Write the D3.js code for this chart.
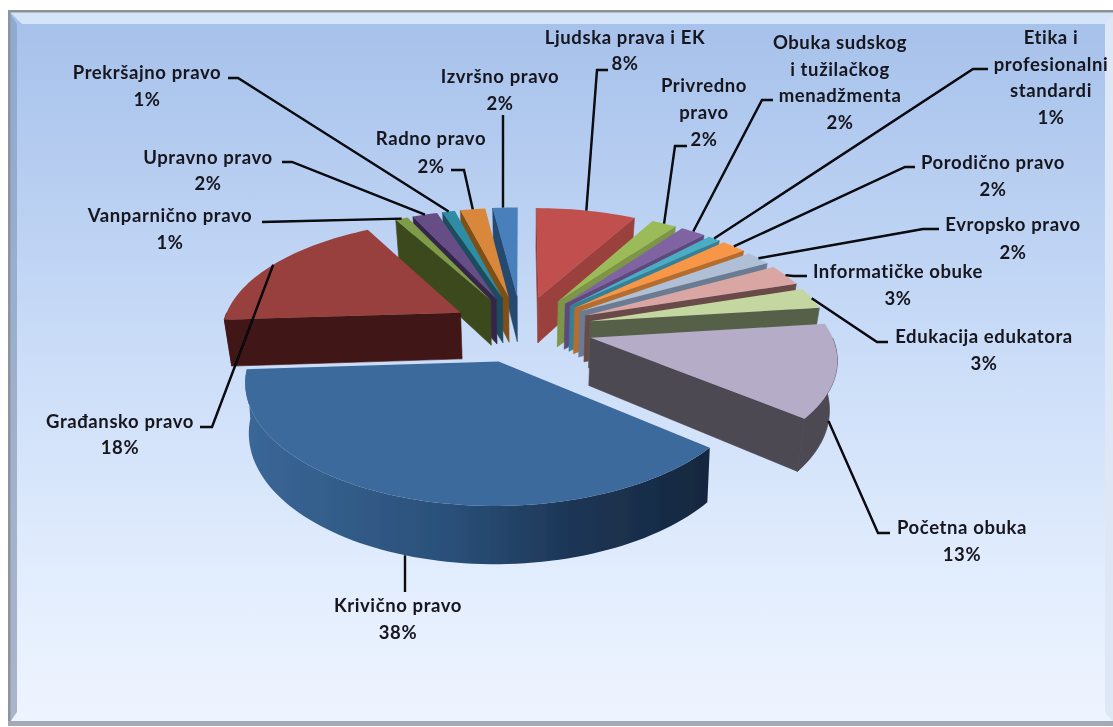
<!DOCTYPE html>
<html>
<head>
<meta charset="utf-8">
<script src="https://cdn.jsdelivr.net/npm/d3@7"></script>
<style>
html, body { margin: 0; padding: 0; background: #fff; }
svg { display: block; }
text { font-family: Lato, "Open Sans", sans-serif; font-weight: 700; font-size: 18.5px; letter-spacing: 0.6px; fill: #15151f; text-anchor: middle; dominant-baseline: central; }
</style>
</head>
<body>
<script>
// order is clockwise from 12 o'clock
var categories = ["Ljudska prava i EK", "Privredno pravo", "Obuka sudskog i tužilačkog menadžmenta", "Etika i profesionalni standardi",
    "Porodično pravo", "Evropsko pravo", "Informatičke obuke", "Edukacija edukatora", "Početna obuka", "Krivično pravo",
    "Građansko pravo", "Vanparnično pravo", "Upravno pravo", "Prekršajno pravo", "Radno pravo", "Izvršno pravo"];
var values = [8, 2, 2, 1, 2, 2, 3, 3, 13, 38, 18, 1, 2, 1, 2, 2];

var topColors = ["#c0504d", "#9bbb59", "#8064a2", "#4bacc6", "#f79646", "#aebfd6", "#d9a6a4", "#c4d7a0", "#b5acc7", "#3d6a9c",
    "#983f3d", "#7e9c47", "#664d86", "#2f8da5", "#d9873a", "#4a80bb"];
var sideColors = ["#9a3f3d", "#7b9546", "#5f4a7c", "#348096", "#b56c2e", "#6b7b94", "#6a4a4a", "#56604a", "#4d4852", "#24466c",
    "#3f1815", "#3b4a1e", "#35284a", "#1c4e5e", "#7f4f18", "#254a70"];

// label text lines, where they sit, and the elbow of each leader (label side first)
var labelLines = [["Ljudska prava i EK"], ["Privredno", "pravo"], ["Obuka sudskog", "i tužilačkog", "menadžmenta"], ["Etika i", "profesionalni", "standardi"],
    ["Porodično pravo"], ["Evropsko pravo"], ["Informatičke obuke"], ["Edukacija edukatora"], ["Početna obuka"], ["Krivično pravo"],
    ["Građansko pravo"], ["Vanparnično pravo"], ["Upravno pravo"], ["Prekršajno pravo"], ["Radno pravo"], ["Izvršno pravo"]];
var labelCenters = [[625, 37], [704, 85], [840, 42], [1051, 37], [993, 162], [1013, 224], [898, 271], [984, 336], [962, 527], [398, 605],
    [120, 421], [170, 215], [208, 157], [147, 72], [431, 138], [500, 76]];
var lineSteps = [26, 27, 26.5, 26.7, 27, 28, 27, 27, 27, 27, 26, 27, 26, 27, 28, 27];
var leaderElbows = [
    [[608, 70], [597, 70]], [[687, 146], [675, 146]], [[773, 100], [762, 100]], [[988, 69], [973, 69]],
    [[915, 167], [905, 167]], [[939, 229], [923, 229]], [[807, 276], [793, 276]], [[888, 342], [877, 342]],
    [[890, 533], [878, 533]], [[405, 592]], [[200, 427], [212, 427]], [[262, 222]],
    [[282, 162], [292, 162]], [[228, 78], [238, 78]], [[451, 170], [464, 170]], [[503, 115]]];
var leaderToRimBottom = ["Početna obuka", "Krivično pravo"];
var verticalLeaders = ["Krivično pravo", "Izvršno pravo"];

var width = 1113, height = 727;

// pie geometry: flat disc seen from above, in px at the disc centre
var cx = 521.5, cy = 328.5;
var radius = 239, explode = 71, thickness = 47;
var tilt = 0.467, camera = 1587, bottomShrink = 0.975, bigSliceShrink = 0.987;

function project(a, r, low) {
    // a clockwise from top; the exploded offset goes along the slice's mid angle
    var x = r.e * Math.sin(r.mid) + r.r * Math.sin(a);
    var z = -r.e * Math.cos(r.mid) - r.r * Math.cos(a);
    var s = 1 / (1 - z / camera);
    var px = x * s, py = tilt * z * s;
    if (low) {
        // the front slice barely narrows towards its bottom edge
        px *= Math.cos(r.mid) < -0.9 ? bigSliceShrink : bottomShrink;
        py += thickness * s;
    }
    return [cx + px, cy + py];
}

var svg = d3.select("body").append("svg").attr("width", width).attr("height", height);
var defs = svg.append("defs");

var bg = defs.append("linearGradient").attr("id", "bg").attr("x1", 0).attr("y1", 0).attr("x2", 0).attr("y2", 1);
bg.append("stop").attr("offset", "0%").attr("stop-color", "#a5c0ea");
bg.append("stop").attr("offset", "40%").attr("stop-color", "#c4d8f6");
bg.append("stop").attr("offset", "75%").attr("stop-color", "#dfebfd");
bg.append("stop").attr("offset", "100%").attr("stop-color", "#eff5ff");

var leftBevel = defs.append("linearGradient").attr("id", "leftBevel").attr("x1", 0).attr("y1", 0).attr("x2", 0).attr("y2", 1);
leftBevel.append("stop").attr("offset", "0%").attr("stop-color", "#8fa9d2");
leftBevel.append("stop").attr("offset", "100%").attr("stop-color", "#a9b6ca");

var rimBlue = defs.append("linearGradient").attr("id", "rimBlue");
rimBlue.append("stop").attr("offset", "0%").attr("stop-color", "#3a6797");
rimBlue.append("stop").attr("offset", "45%").attr("stop-color", "#2a4f78");
rimBlue.append("stop").attr("offset", "70%").attr("stop-color", "#1d3656");
rimBlue.append("stop").attr("offset", "100%").attr("stop-color", "#15273e");

var soft = defs.append("filter").attr("id", "soft").attr("x", "-5%").attr("y", "-5%").attr("width", "110%").attr("height", "110%");
soft.append("feGaussianBlur").attr("stdDeviation", 0.45);

// frame
var frame = svg.append("g").attr("filter", "url(#soft)");
frame.append("rect").attr("x", 8).attr("y", 10).attr("width", 1105).attr("height", 715).attr("fill", "url(#bg)");
frame.append("path").attr("d", "M8 10H1113V24H1098L22 24Z").attr("fill", "#d4e5fa");
frame.append("path").attr("d", "M8 10L17 24V712L8 725Z").attr("fill", "url(#leftBevel)");
frame.append("path").attr("d", "M1113 14L1105 24V712L1113 722Z").attr("fill", "#dde7f5");
frame.append("path").attr("d", "M8 725L17 716H1105L1113 725Z").attr("fill", "#eef4fd");
frame.append("rect").attr("x", 8).attr("y", 10).attr("width", 1105).attr("height", 2.5).attr("fill", "#8d9196");
frame.append("rect").attr("x", 8).attr("y", 10).attr("width", 2.5).attr("height", 715).attr("fill", "#8e949c");
frame.append("rect").attr("x", 8).attr("y", 721).attr("width", 1105).attr("height", 5).attr("fill", "#a3a9b6");

// pie
var arcs = d3.pie().sort(null)(values);
arcs.forEach(function (d, i) {
    d.i = i;
    d.mid = (d.startAngle + d.endAngle) / 2;
});

var line = d3.line();
var chart = svg.append("g").attr("filter", "url(#soft)");

function arcPoints(d, a0, a1, low) {
    var n = Math.max(2, Math.ceil((a1 - a0) / 0.03));
    return d3.range(n + 1).map(function (k) {
        return project(a0 + (a1 - a0) * k / n, {e: explode, mid: d.mid, r: radius}, low);
    });
}

function apex(d, low) {
    return project(0, {e: explode, mid: d.mid, r: 0}, low);
}

function wall(g, d, a) {
    var outerTop = project(a, {e: explode, mid: d.mid, r: radius}, false);
    var outerLow = project(a, {e: explode, mid: d.mid, r: radius}, true);
    g.append("path")
        .attr("d", line([apex(d, false), outerTop, outerLow, apex(d, true)]) + "Z")
        .attr("fill", sideColors[d.i])
        .attr("stroke", sideColors[d.i])
        .attr("stroke-width", 0.6);
}

// back to front: walls and rim before the top face
var order = arcs.slice().sort(function (a, b) {
    return d3.ascending(-Math.cos(a.mid), -Math.cos(b.mid));
});

order.forEach(function (d) {
    var g = chart.append("g");
    if (Math.sin(d.startAngle) <= 0) wall(g, d, d.startAngle);
    if (Math.sin(d.endAngle) > 0) wall(g, d, d.endAngle);

    var r0 = Math.max(d.startAngle, Math.PI / 2), r1 = Math.min(d.endAngle, Math.PI * 1.5);
    if (r1 > r0) {
        var blue = categories[d.i] === "Krivično pravo";
        var rim = arcPoints(d, r0, r1, false).concat(arcPoints(d, r0, r1, true).reverse());
        g.append("path")
            .attr("d", line(rim) + "Z")
            .attr("fill", blue ? "url(#rimBlue)" : sideColors[d.i])
            .attr("stroke", blue ? "none" : sideColors[d.i])
            .attr("stroke-width", 0.8);
    }

    var face = [apex(d, false)].concat(arcPoints(d, d.startAngle, d.endAngle, false));
    g.append("path")
        .attr("d", line(face) + "Z")
        .attr("fill", topColors[d.i]);
});

// leaders and labels
var labels = svg.append("g").attr("filter", "url(#soft)");

arcs.forEach(function (d) {
    var i = d.i;
    var low = leaderToRimBottom.indexOf(categories[i]) >= 0;
    var end = project(d.mid, {e: explode, mid: d.mid, r: radius}, low);
    if (verticalLeaders.indexOf(categories[i]) >= 0) end[0] = leaderElbows[i][0][0];
    labels.append("path")
        .attr("d", line(leaderElbows[i].concat([end])))
        .attr("fill", "none")
        .attr("stroke", "#07070f")
        .attr("stroke-width", 2.4);

    var rows = labelLines[i].concat([values[i] + "%"]);
    rows.forEach(function (row, k) {
        labels.append("text")
            .attr("x", labelCenters[i][0])
            .attr("y", labelCenters[i][1] + k * lineSteps[i])
            .text(row);
    });
});
</script>
</body>
</html>
